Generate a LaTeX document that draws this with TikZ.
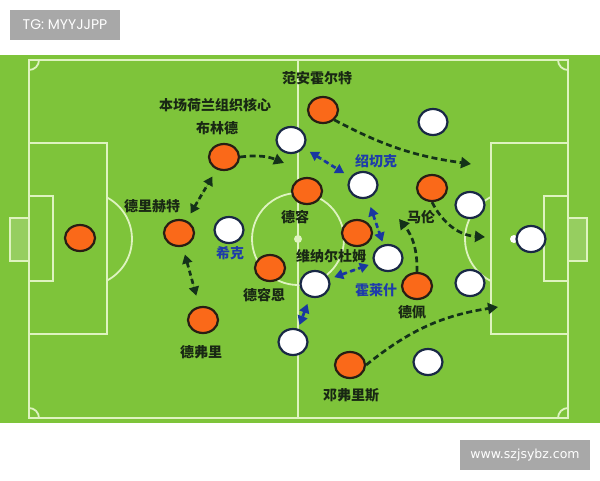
\documentclass[tikz,border=0pt]{standalone}
\usepackage{fontspec}
\setmainfont{DejaVu Sans}
\newfontfamily\cjk{Noto Sans CJK SC}
\newfontfamily\tgfont{Poppins}
\usetikzlibrary{shapes.geometric,arrows.meta}
\definecolor{grass}{RGB}{126,196,58}
\definecolor{chalk}{RGB}{222,243,192}
\definecolor{netgreen}{RGB}{150,206,96}
\definecolor{shirt}{RGB}{250,105,25}
\definecolor{shirtline}{RGB}{40,30,20}
\definecolor{navyline}{RGB}{25,40,70}
\definecolor{darktext}{RGB}{25,40,20}
\definecolor{bluetext}{RGB}{30,60,170}
\definecolor{arrowdark}{RGB}{20,50,25}
\definecolor{arrowblue}{RGB}{25,55,160}
\definecolor{markgray}{RGB}{168,168,168}
\begin{document}
\begin{tikzpicture}[x=1pt, y=-1pt,
    home/.style ={ellipse, draw=shirtline, line width=2.2pt, fill=shirt,
                  minimum width=30pt, minimum height=26pt, inner sep=0pt},
    away/.style ={ellipse, draw=navyline, line width=2.2pt, fill=white,
                  minimum width=29pt, minimum height=26pt, inner sep=0pt},
    tag/.style ={font=\cjk\bfseries\fontsize{14}{16}\selectfont, text=darktext, inner sep=0pt},
    bluetag/.style ={tag, text=bluetext},
    runarrow/.style ={line width=2.7pt, dash pattern=on 6pt off 3.5pt, draw=arrowdark,
                  -{Triangle[length=10pt,width=11pt]}},
    duel/.style ={line width=2.7pt, dash pattern=on 5pt off 3.5pt, draw=arrowdark,
                  {Triangle[length=9pt,width=10pt]}-{Triangle[length=9pt,width=10pt]}},
    blueduel/.style ={duel, draw=arrowblue, fill=arrowblue},
    wmark/.style ={fill=markgray, text=white, minimum height=30pt, inner sep=0pt},
    chalkline/.style ={draw=chalk, line width=1.8pt}]
   \useasboundingbox (0,0) rectangle (600,480);
   \fill[white] (0,0) rectangle (600,480);
   \fill[grass] (0,55) rectangle (600,423);
   % pitch
   \draw[chalkline, fill=netgreen, line width=2.6pt] (10,218) rectangle (29,261);
   \draw[chalkline, fill=netgreen, line width=2.6pt] (568,218) rectangle (587,261);
   \draw[chalkline] (29,60) rectangle (568,418);
   \draw[chalkline] (298,60) -- (298,418);
   \draw[chalkline] (298,239) circle (46pt);
   \draw[chalkline] (29,143) rectangle (107,334);
   \draw[chalkline] (29,196) rectangle (53,281);
   \draw[chalkline] (491,143) rectangle (568,334);
   \draw[chalkline] (544,196) rectangle (568,281);
   \begin{scope}
     \clip (107,60) rectangle (298,418);
     \draw[chalkline] (85,239) circle (47pt);
   \end{scope}
   \begin{scope}
     \clip (298,60) rectangle (491,418);
     \draw[chalkline] (512,239) circle (47pt);
   \end{scope}
   \begin{scope}
     \clip (29,60) rectangle (568,418);
     \draw[chalkline] (29,60) circle (10pt);
     \draw[chalkline] (29,418) circle (10pt);
     \draw[chalkline] (568,60) circle (10pt);
     \draw[chalkline] (568,418) circle (10pt);
   \end{scope}
   \fill[chalk] (298,239) circle (4pt);
   \fill[white] (514,239) circle (4pt);
   % Netherlands
   \node[home] (oranjeGK) at (80,238) {};
   \node[home] (deligt) at (179,233) {};
   \node[home] (blind) at (224,157) {};
   \node[home] (aanholt) at (323,110) {};
   \node[home] (dejong) at (307,191) {};
   \node[home] (wijnaldum) at (357,233) {};
   \node[home] (deroon) at (270,268) {};
   \node[home] (devrij) at (203,320) {};
   \node[home] (malen) at (432,188) {};
   \node[home] (depay) at (417,286) {};
   \node[home] (dumfries) at (350,365) {};
   % Czech
   \node[away] (awayA) at (291,140) {};
   \node[away] (awayB) at (433,122) {};
   \node[away] (soucek) at (363,185) {};
   \node[away] (schick) at (229,230) {};
   \node[away] (awayC) at (470,205) {};
   \node[away] (czechGK) at (531,239) {};
   \node[away] (holes) at (388,258) {};
   \node[away] (awayD) at (315,284) {};
   \node[away] (awayE) at (470,283) {};
   \node[away] (awayF) at (293,342) {};
   \node[away] (awayG) at (428,362) {};
   % names
   \node[tag] (tCore) at (215,105) {本场荷兰组织核心};
   \node[tag] (tBlind) at (217,128) {布林德};
   \node[tag] (tAanholt) at (317,78) {范安霍尔特};
   \node[bluetag] (tSoucek) at (376,161) {绍切克};
   \node[tag] (tDeligt) at (152,206) {德里赫特};
   \node[bluetag] (tSchick) at (230,253) {希克};
   \node[tag] (tDejong) at (295,217) {德容};
   \node[tag] (tWijnaldum) at (331,256) {维纳尔杜姆};
   \node[tag] (tDeroon) at (264,295) {德容恩};
   \node[bluetag] (tHoles) at (376,290) {霍莱什};
   \node[tag] (tMalen) at (421,217) {马伦};
   \node[tag] (tDepay) at (412,312) {德佩};
   \node[tag] (tDevrij) at (201,352) {德弗里};
   \node[tag] (tDumfries) at (351,395) {邓弗里斯};
   % runs
   \coordinate (blindTo) at (284,163);
   \coordinate (aanholtTo) at (471,164);
   \coordinate (malenTo) at (485,237);
   \coordinate (depayTo) at (399,219);
   \coordinate (dumfriesTo) at (498,307);
   \draw[runarrow] (blind.east) to[bend left=15] (blindTo);
   \draw[runarrow] (aanholt.south east) to[bend right=10] (aanholtTo);
   \draw[runarrow] (malen.south) to[bend right=30] (malenTo);
   \draw[runarrow] (depay.north) to[bend right=20] (depayTo);
   \draw[runarrow] (dumfries.east) to[bend left=15] (dumfriesTo);
   \draw[duel, fill=arrowdark, shorten <=8pt, shorten >=8pt] (deligt) -- (blind);
   \draw[duel, fill=arrowdark, shorten <=8pt, shorten >=11pt] (deligt) -- (devrij);
   \draw[blueduel, shorten <=7pt, shorten >=7pt] (awayA) -- (soucek);
   \draw[blueduel, shorten <=9pt, shorten >=3pt] (soucek) -- (holes);
   \draw[blueduel, shorten <=5pt, shorten >=5pt] (awayD) -- (holes);
   \draw[blueduel, shorten <=7pt, shorten >=4pt] (awayD) -- (awayF);
   % marks
   \node[wmark, minimum width=110pt, font=\tgfont\fontsize{14}{16}\selectfont] (tgMark) at (65,25) {TG: MYYJJPP};
   \node[wmark, minimum width=130pt, font=\fontsize{12.5}{14}\selectfont] (siteMark) at (525,455) {www.szjsybz.com};
\end{tikzpicture}
\end{document}
